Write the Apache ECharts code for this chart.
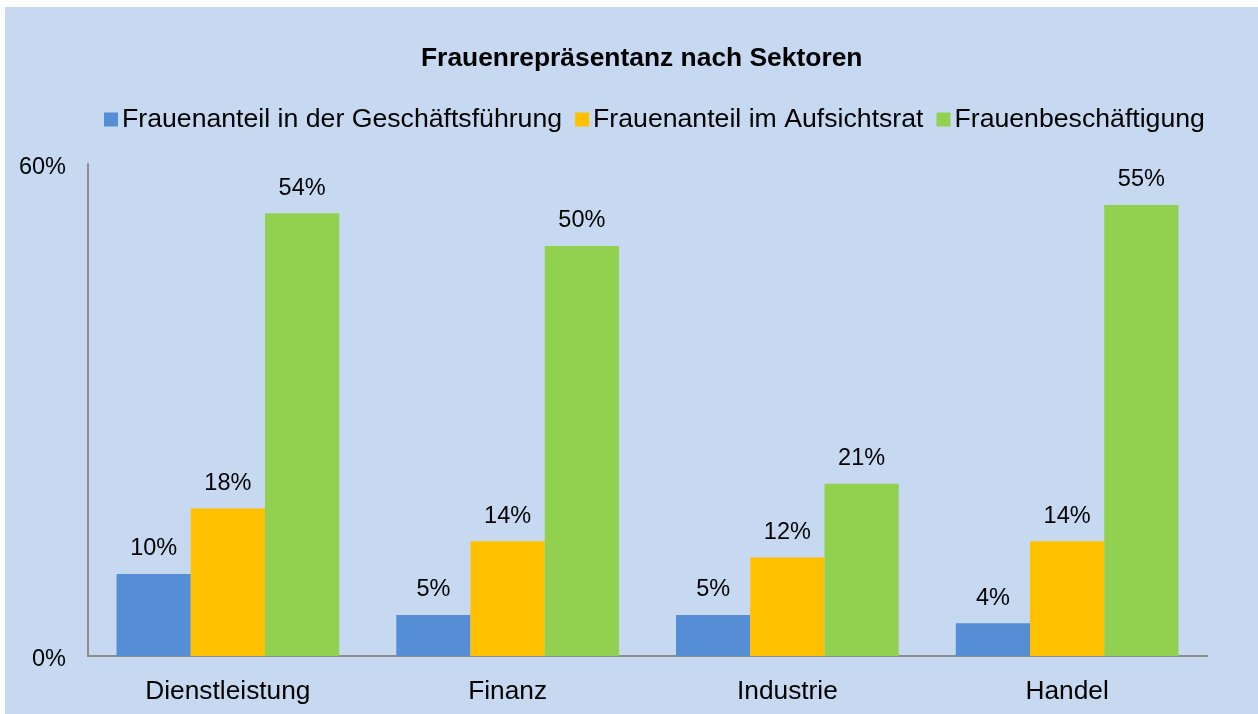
<!DOCTYPE html>
<html><head><meta charset="utf-8">
<script src="https://cdn.jsdelivr.net/npm/echarts@6/dist/echarts.min.js"></script>
<style>html,body{margin:0;padding:0;background:#fff}#c{position:absolute;left:5px;top:7px;width:1253px;height:707px;background:#c6d9f1}</style>
</head><body><div id="c"></div>
<script>
const categories = ['Dienstleistung', 'Finanz', 'Industrie', 'Handel'];
const seriesNames = ['Frauenanteil in der Geschäftsführung', 'Frauenanteil im Aufsichtsrat', 'Frauenbeschäftigung'];
const geschaeftsfuehrung = [10, 5, 5, 4];
const aufsichtsrat = [18, 14, 12, 14];
const beschaeftigung = [54, 50, 21, 55];
const colors = ['#558ed5', '#ffc000', '#92d050'];
const yTicks = [0, 60];

const font = 'Liberation Sans, Arial, sans-serif';
const chart = echarts.init(document.getElementById('c'));
const dataSets = [geschaeftsfuehrung, aufsichtsrat, beschaeftigung];
chart.setOption({
  animation: false,
  title: { text: 'Frauenrepräsentanz nach Sektoren', left: 416, top: 39, padding: 0,
    textStyle: { fontFamily: font, fontSize: 26.4, fontWeight: 'bold', color: '#000' } },
  legend: { left: 99, top: 99, padding: 0, itemWidth: 14, itemHeight: 14, itemGap: 13,
    textStyle: { fontFamily: font, fontSize: 26.67, color: '#000', padding: [0,0,0,-1] },
    data: seriesNames.map(n => ({ name: n, icon: 'rect' })) },
  grid: { left: 83, right: 51, top: 157, bottom: 58, containLabel: false },
  xAxis: { type: 'category', data: categories,
    axisLine: { lineStyle: { color: '#8c8c8c', width: 2 } },
    axisTick: { show: false },
    axisLabel: { fontFamily: font, fontSize: 26.3, color: '#000', margin: 23 } },
  yAxis: { type: 'value', min: yTicks[0], max: yTicks[1], interval: 60,
    axisLine: { show: true, lineStyle: { color: '#8c8c8c', width: 2 } },
    axisTick: { show: false }, splitLine: { show: false },
    axisLabel: { fontFamily: font, fontSize: 23.5, color: '#000', margin: 22,
      formatter: v => '{a|' + v + '%}',
      rich: { a: { fontFamily: font, fontSize: 23.5, color: '#000', padding: [8, 0, 0, 0] } } } },
  series: dataSets.map((d, i) => ({
    name: seriesNames[i], type: 'bar', data: d, barGap: '0%', barCategoryGap: '20.4%',
    itemStyle: { color: colors[i] },
    label: { show: true, position: 'top', distance: 13, fontFamily: font, fontSize: 23.5, color: '#000', formatter: p => p.value + '%' }
  }))
});
</script></body></html>
